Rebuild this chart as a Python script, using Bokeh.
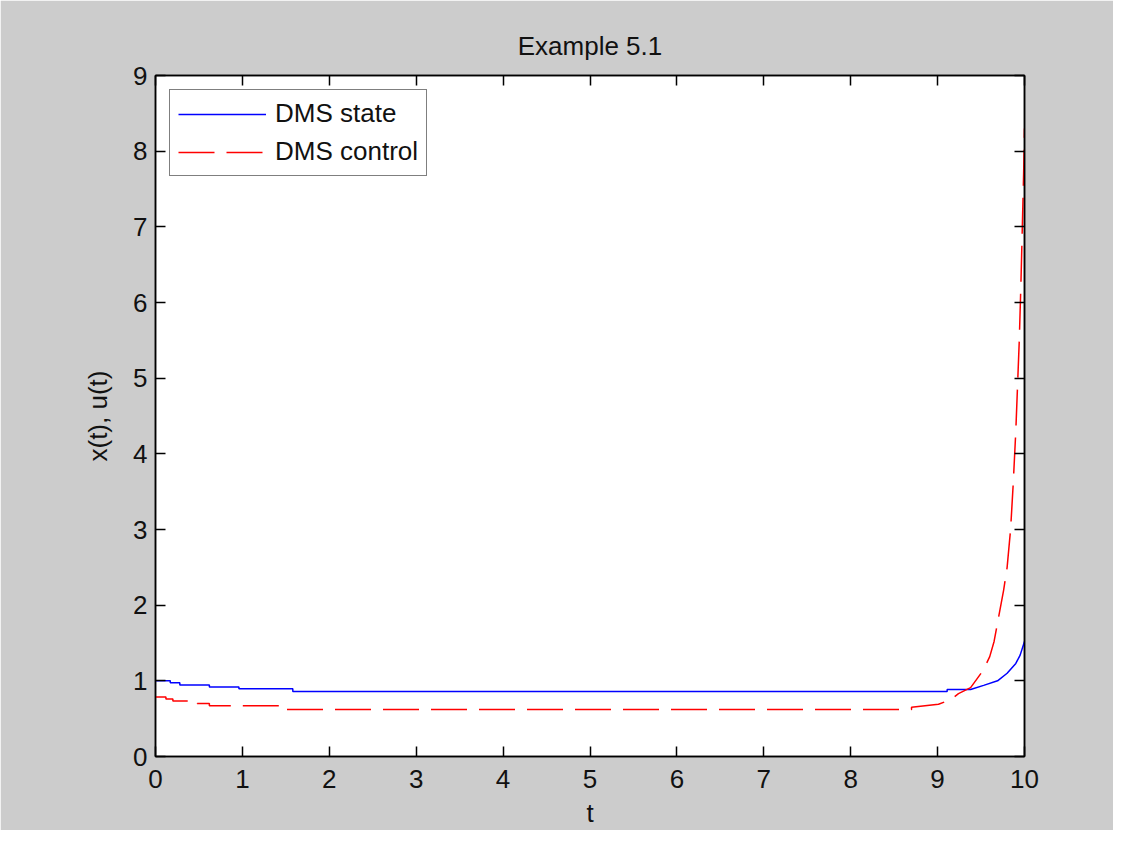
from bokeh.plotting import figure
from bokeh.models import Range1d, LinearAxis, FixedTicker, Legend, LegendItem
from bokeh.embed import file_html
from bokeh.resources import INLINE

# ---- data ----
state_t = [0.0, 0.17, 0.17, 0.28, 0.28, 0.62, 0.62, 0.96, 0.96, 1.58, 1.58,
           9.11, 9.11, 9.38, 9.53, 9.69, 9.80, 9.90, 9.95, 10.0]
state_x = [1.0, 1.0, 0.975, 0.975, 0.945, 0.945, 0.92, 0.92, 0.895, 0.895, 0.86,
           0.86, 0.885, 0.885, 0.94, 1.0, 1.10, 1.23, 1.34, 1.52]

control_t = [0.0, 0.12, 0.12, 0.20, 0.20, 0.48, 0.48, 0.62, 0.62, 1.44, 1.44,
             1.50, 1.50, 8.70, 8.70, 9.01, 9.15, 9.24, 9.38, 9.50, 9.55, 9.60,
             9.65, 9.70, 9.76, 9.80, 9.84, 9.87, 9.90, 9.92, 9.94, 9.96, 9.975,
             9.99, 10.0]
control_u = [0.785, 0.785, 0.76, 0.76, 0.735, 0.735, 0.70, 0.70, 0.67, 0.67, 0.645,
             0.645, 0.62, 0.62, 0.65, 0.69, 0.75, 0.83, 0.91, 1.10, 1.20, 1.32,
             1.52, 1.83, 2.20, 2.50, 3.00, 3.60, 4.30, 4.90, 5.50, 6.30, 7.00,
             7.70, 8.30]

x_ticks = [0, 1, 2, 3, 4, 5, 6, 7, 8, 9, 10]
y_ticks = [0, 1, 2, 3, 4, 5, 6, 7, 8, 9]

series_names = ["DMS state", "DMS control"]

FONT = "Liberation Sans"
FS = "26px"
GRAY = "#CCCCCC"
TXT = "#111111"

p = figure(width=1113, height=830,
           x_range=Range1d(0, 10), y_range=Range1d(0, 9),
           output_backend="svg", toolbar_location=None,
           background_fill_color="white", border_fill_color=GRAY,
           min_border_left=155, min_border_right=89,
           min_border_top=75, min_border_bottom=71)

p.xgrid.visible = False
p.ygrid.visible = False
p.outline_line_color = "black"
p.outline_line_width = 1.5

p.title.text = "Example 5.1"
p.title.align = "center"
p.title.text_font = FONT
p.title.text_font_size = FS
p.title.text_font_style = "normal"
p.title.text_color = TXT
p.title.standoff = 30

def style_axis(ax, ticks, show_labels):
    ax.ticker = FixedTicker(ticks=ticks)
    ax.major_tick_in = 10
    ax.major_tick_out = 0
    ax.minor_tick_line_color = None
    ax.major_tick_line_color = "black"
    ax.major_tick_line_width = 1.5
    ax.axis_line_color = "black"
    ax.axis_line_width = 1.5
    ax.major_label_text_font = FONT
    if show_labels:
        ax.major_label_text_font_size = FS
        ax.major_label_text_color = TXT
    else:
        ax.major_label_text_font_size = "1px"
        ax.major_label_text_color = None
        ax.major_label_standoff = 0
    ax.axis_label_text_font = FONT
    ax.axis_label_text_font_size = FS
    ax.axis_label_text_font_style = "normal"
    ax.axis_label_text_color = TXT

style_axis(p.xaxis[0], x_ticks, True)
style_axis(p.yaxis[0], y_ticks, True)
p.xaxis[0].axis_label = "t"
p.yaxis[0].axis_label = "x(t), u(t)"
p.xaxis[0].major_label_standoff = 13
p.yaxis[0].major_label_standoff = 8
p.xaxis[0].axis_label_standoff = 7
p.yaxis[0].axis_label_standoff = 17

top_ax = LinearAxis()
style_axis(top_ax, x_ticks, False)
p.add_layout(top_ax, "above")
right_ax = LinearAxis()
style_axis(right_ax, y_ticks, False)
p.add_layout(right_ax, "right")

r_state = p.line(state_t, state_x, line_color="#0000FF", line_width=1.5)
r_ctrl = p.line(control_t, control_u, line_color="#FF0000", line_width=1.5,
                line_dash="36 12")

legend = Legend(items=[LegendItem(label=series_names[0], renderers=[r_state]),
                       LegendItem(label=series_names[1], renderers=[r_ctrl])],
                location="top_left", margin=14, padding=8,
                glyph_width=88, glyph_height=26, label_height=26,
                spacing=7, label_standoff=9,
                label_text_font=FONT, label_text_font_size=FS,
                label_text_color=TXT,
                border_line_color="black", border_line_width=1.5,
                background_fill_color="white", background_fill_alpha=1.0)
p.add_layout(legend, "center")

open("out.html", "w").write(file_html(p, INLINE))
